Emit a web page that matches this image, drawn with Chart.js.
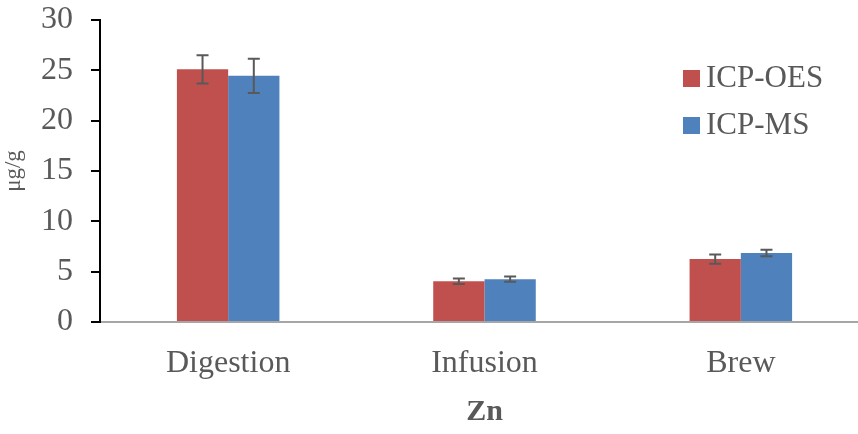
<!DOCTYPE html>
<html lang="en">
<head>
  <meta charset="UTF-8" />
  <title>Zn - ICP-OES vs ICP-MS</title>
  <script src="https://cdn.jsdelivr.net/npm/chart.js"></script>
  <style>
    html, body {
      margin: 0;
      padding: 0;
      background: #ffffff;
      overflow: hidden;
    }
    .wrap {
      width: 869px;
      height: 434px;
    }
  </style>
</head>
<body>
  <div class="wrap">
    <canvas id="znChart" width="869" height="434"></canvas>
  </div>

  <script>
    const categories = ["Digestion", "Infusion", "Brew"];
    const oesValues = [25.1, 4.05, 6.25];
    const oesErrors = [1.4, 0.27, 0.46];
    const msValues = [24.45, 4.25, 6.85];
    const msErrors = [1.7, 0.26, 0.33];
    const yTicks = [0, 5, 10, 15, 20, 25, 30];

    const textColor = "#595959";
    const serif = "'Liberation Serif', 'Times New Roman', serif";

    // error bars drawn from each bar element + the y scale
    const errorBars = {
      id: "errorBars",
      afterDatasetsDraw(chart) {
        const ctx = chart.ctx;
        const y = chart.scales.y;
        ctx.save();
        ctx.strokeStyle = "#595959";
        ctx.lineWidth = 2;
        chart.data.datasets.forEach((ds, i) => {
          const meta = chart.getDatasetMeta(i);
          meta.data.forEach((bar, j) => {
            const v = ds.data[j], e = ds.errors[j];
            const top = y.getPixelForValue(v + e);
            const bot = y.getPixelForValue(v - e);
            ctx.beginPath();
            ctx.moveTo(bar.x, top); ctx.lineTo(bar.x, bot);
            ctx.moveTo(bar.x - 6, top); ctx.lineTo(bar.x + 6, top);
            ctx.moveTo(bar.x - 6, bot); ctx.lineTo(bar.x + 6, bot);
            ctx.stroke();
          });
        });
        ctx.restore();
      }
    };

    // legend inside the plot, top right
    const innerLegend = {
      id: "innerLegend",
      afterDraw(chart) {
        const ctx = chart.ctx;
        ctx.save();
        ctx.font = "31px " + serif;
        ctx.textBaseline = "middle";
        chart.data.datasets.forEach((ds, i) => {
          const cy = 78 + i * 47;
          ctx.fillStyle = ds.backgroundColor;
          ctx.fillRect(683, cy - 8, 17, 17);
          ctx.fillStyle = textColor;
          ctx.fillText(ds.label, 706, cy + 1);
        });
        ctx.restore();
      }
    };

    new Chart(document.getElementById("znChart"), {
      type: "bar",
      data: {
        labels: categories,
        datasets: [
          { label: "ICP-OES", data: oesValues, errors: oesErrors, backgroundColor: "#c0504d" },
          { label: "ICP-MS", data: msValues, errors: msErrors, backgroundColor: "#4f81bd" }
        ]
      },
      options: {
        responsive: false,
        animation: false,
        categoryPercentage: 0.4,
        barPercentage: 1.0,
        layout: { padding: 0 },
        plugins: {
          legend: { display: false },
          tooltip: { enabled: false }
        },
        scales: {
          x: {
            grid: { display: false },
            border: { color: "#a6a6a6", width: 2 },
            ticks: {
              color: textColor,
              font: { family: serif, size: 32 },
              padding: 14
            },
            title: {
              display: true,
              text: "Zn",
              color: textColor,
              font: { family: serif, size: 30, weight: "bold" },
              padding: { top: 15 }
            },
            afterFit(scale) { scale.height = 112; }
          },
          y: {
            min: 0,
            max: 30,
            afterBuildTicks(scale) { scale.ticks = yTicks.map(v => ({ value: v })); },
            grid: { drawOnChartArea: false, color: "#000", lineWidth: 2, tickLength: 9 },
            border: { color: "#000", width: 2 },
            ticks: {
              color: textColor,
              font: { family: serif, size: 32 },
              padding: 18
            },
            title: {
              display: true,
              text: "μg/g",
              color: textColor,
              font: { family: serif, size: 23 },
              padding: 0
            },
            afterFit(scale) {
              scale.width = 100;
              scale.paddingTop = 20;
              scale.paddingBottom = 0;
            }
          }
        }
      },
      plugins: [errorBars, innerLegend]
    });
  </script>
</body>
</html>
